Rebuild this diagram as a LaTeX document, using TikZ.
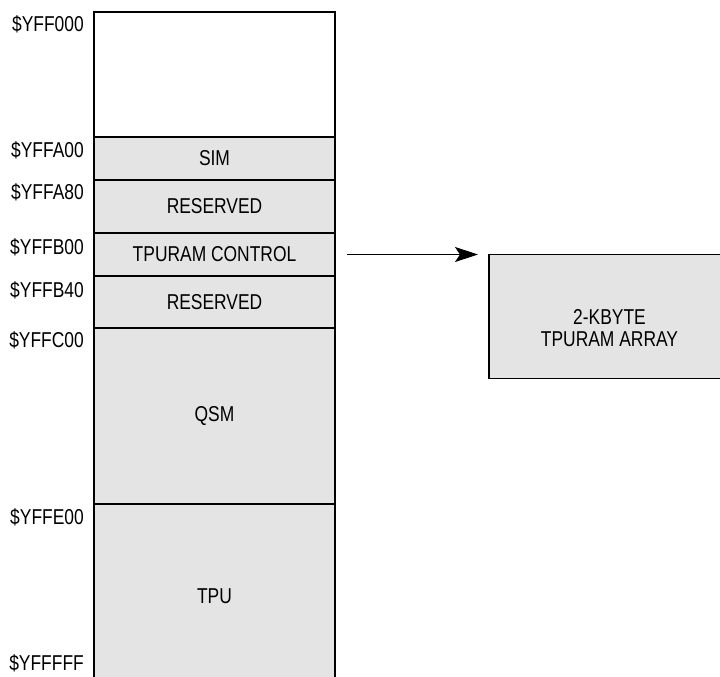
\documentclass[tikz,border=0pt]{standalone}
\usepackage{fontspec}
\setmainfont{Liberation Sans}[FakeStretch=0.81]
\usetikzlibrary{positioning, arrows.meta, calc}
\definecolor{cFill}{HTML}{E4E4E4}

\begin{document}
\begin{tikzpicture}[
  x=1pt, y=1pt,
  node distance=0pt,
  memblock/.style={
    draw, line width=1.5pt, fill=#1, outer sep=0pt, inner sep=0pt,
    minimum width=241pt, font=\fontsize{21.5}{22}\selectfont
  },
  memblock/.default=cFill,
  addrlabel/.style={
    anchor=north east, inner sep=0pt, font=\fontsize{21.5}{22}\selectfont
  },
]
\path[use as bounding box, clip] (0,0) rectangle (720,-677);

% memory map
\node[memblock=white, minimum height=125pt, anchor=north west] (free) at (94,-12) {};
\node[memblock, minimum height=43pt, below=of free] (sim) {SIM};
\node[memblock, minimum height=53pt, below=of sim] (resa) {RESERVED};
\node[memblock, minimum height=43pt, below=of resa] (ctrl) {TPURAM CONTROL};
\node[memblock, minimum height=52pt, below=of ctrl] (resb) {RESERVED};
\node[memblock, minimum height=176pt, below=of resb] (qsm) {QSM};
\node[memblock, minimum height=184pt, below=of qsm] (tpu) {TPU};

% addresses
\node[addrlabel] (aF000) at ($(free.north west)+(-10,-3)$) {\$YFF000};
\node[addrlabel] (aFA00) at ($(sim.north west)+(-10,-4)$) {\$YFFA00};
\node[addrlabel] (aFA80) at ($(resa.north west)+(-10,-3)$) {\$YFFA80};
\node[addrlabel] (aFB00) at ($(ctrl.north west)+(-10,-5)$) {\$YFFB00};
\node[addrlabel] (aFB40) at ($(resb.north west)+(-10,-5)$) {\$YFFB40};
\node[addrlabel] (aFC00) at ($(qsm.north west)+(-10,-3)$) {\$YFFC00};
\node[addrlabel] (aFE00) at ($(tpu.north west)+(-10,-4)$) {\$YFFE00};
\node[addrlabel] (aFFFF) at ($(tpu.south west)+(-10,34)$) {\$YFFFFF};

% RAM array
\node[memblock, minimum height=124pt, anchor=north west] (ramarray)
  at ($(ctrl.east)+(154,0)$) {};
\node[align=center, inner sep=0pt, font=\fontsize{21.5}{22}\selectfont] (ramtext)
  at ($(ramarray.center)+(0,-12)$) {2-KBYTE\\TPURAM ARRAY};

\draw[-{Stealth[length=23pt,width=15pt,inset=5pt]}, line width=0.8pt]
  ($(ctrl.east)+(12,0)$) -- ($(ramarray.north west)+(-11,0)$);

\end{tikzpicture}
\end{document}
